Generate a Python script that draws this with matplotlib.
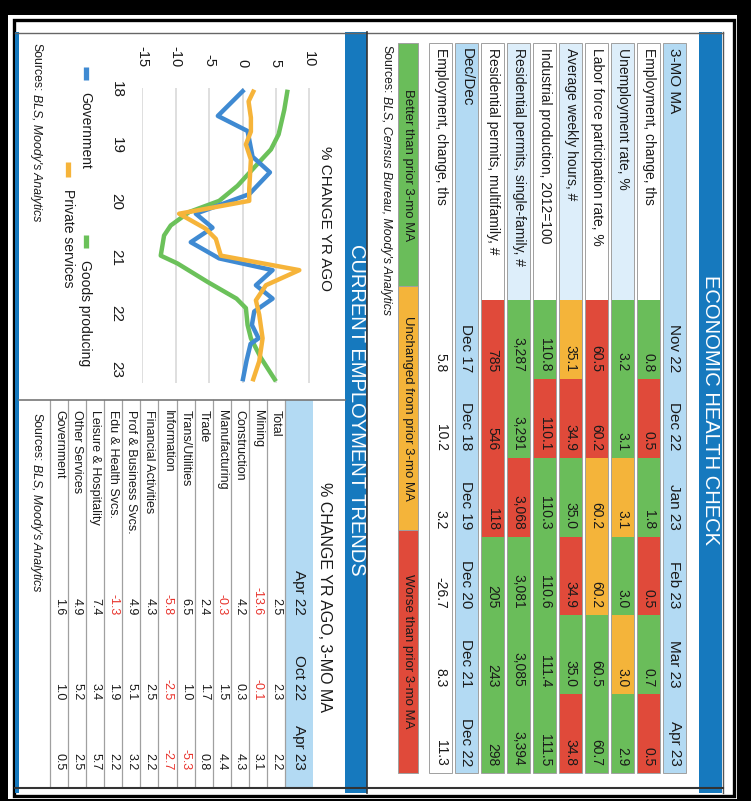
import matplotlib
matplotlib.use("Agg")
import matplotlib.pyplot as plt
from matplotlib.patches import Rectangle
import numpy as np

plt.rcParams['font.family'] = ['Liberation Sans', 'DejaVu Sans']

# ---------------- data ----------------
health_title = "ECONOMIC HEALTH CHECK"
health_months = ["Nov 22", "Dec 22", "Jan 23", "Feb 23", "Mar 23", "Apr 23"]
health_rows = ["Employment, change, ths", "Unemployment rate, %",
               "Labor force participation rate, %", "Average weekly hours, #",
               "Industrial production, 2012=100", "Residential permits, single-family, #",
               "Residential permits, multifamily, #"]
emp_change = [0.8, 0.5, 1.8, 0.5, 0.7, 0.5]
unemp_rate = [3.2, 3.1, 3.1, 3.0, 3.0, 2.9]
lfpr = [60.5, 60.2, 60.2, 60.2, 60.5, 60.7]
weekly_hours = [35.1, 34.9, 35.0, 34.9, 35.0, 34.8]
ind_prod = [110.8, 110.1, 110.3, 110.6, 111.4, 111.5]
permits_single = [3287, 3291, 3068, 3081, 3085, 3394]
permits_multi = [785, 546, 118, 205, 243, 298]
# B = better, U = unchanged, W = worse than prior 3-mo MA
emp_change_st = ["B", "W", "B", "W", "B", "W"]
unemp_rate_st = ["B", "B", "U", "B", "U", "B"]
lfpr_st = ["W", "W", "U", "U", "B", "B"]
weekly_hours_st = ["U", "W", "B", "W", "B", "W"]
ind_prod_st = ["B", "W", "B", "B", "B", "B"]
permits_single_st = ["B", "B", "W", "B", "B", "B"]
permits_multi_st = ["W", "W", "W", "B", "B", "B"]
dec_years = ["Dec 17", "Dec 18", "Dec 19", "Dec 20", "Dec 21", "Dec 22"]
dec_emp_change = [5.8, 10.2, 3.2, -26.7, 8.3, 11.3]
legend_labels = ["Better than prior 3-mo MA", "Unchanged from prior 3-mo MA", "Worse than prior 3-mo MA"]

trend_cols = ["Apr 22", "Oct 22", "Apr 23"]
trend_rows = ["Total", "Mining", "Construction", "Manufacturing", "Trade", "Trans/Utilities",
              "Information", "Financial Activities", "Prof & Business Svcs.",
              "Edu & Health Svcs.", "Leisure & Hospitality", "Other Services", "Government"]
trend_apr22 = [2.5, -13.6, 4.2, -0.3, 2.4, 6.5, -5.8, 4.3, 4.9, -1.3, 7.4, 4.9, 1.6]
trend_oct22 = [2.3, -0.1, 0.3, 1.5, 1.7, 1.0, -2.5, 2.5, 5.1, 1.9, 3.4, 5.2, 1.0]
trend_apr23 = [2.2, 3.1, 4.3, 4.4, 0.8, -5.3, -2.7, 2.2, 3.2, 2.2, 5.7, 2.5, 0.5]

# line chart (x = fractional year, y = % change yr ago)
gov_t = [2018.0, 2018.47, 2018.74, 2019.2, 2019.48, 2019.87, 2020.22, 2020.47, 2020.73,
         2021.02, 2021.23, 2021.5, 2021.74, 2021.97, 2022.21, 2022.45, 2022.55, 2022.7,
         2022.85, 2023.22]
gov_v = [0.25, -3.7, 0.75, 1.5, 4.1, 1.0, -7.0, -4.5, -7.75, -3.5, 4.5, 2.0, 4.5, 1.75,
         1.4, 2.4, 1.2, 0.9, 0.6, 0.0]
priv_t = [2018.0, 2018.21, 2018.5, 2018.75, 2018.98, 2019.25, 2019.78, 2019.99, 2020.22,
          2020.49, 2020.67, 2020.97, 2021.23, 2021.5, 2021.68, 2021.77, 2022.03, 2022.45,
          2022.86, 2023.22]
priv_v = [1.75, 0.9, 1.25, 1.25, 0.5, 1.25, 1.0, 1.0, -9.5, -5.5, -4.0, -3.25, 8.5, 3.5,
          2.5, 2.0, 2.5, 3.0, 2.5, 1.5]
goods_t = [2018.0, 2018.36, 2018.8, 2019.07, 2019.36, 2019.72, 2019.99, 2020.19, 2020.43,
           2020.61, 2020.97, 2021.11, 2021.44, 2021.74, 2021.91, 2022.21, 2022.45, 2022.8,
           2023.22]
goods_v = [6.75, 6.25, 5.4, 4.25, 2.0, -0.75, -3.5, -8.0, -10.75, -11.75, -12.25, -9.75,
           -5.25, -0.9, 0.5, 0.75, 1.25, 2.75, 5.0]
chart_years = [2018, 2019, 2020, 2021, 2022, 2023]
chart_year_labels = ["18", "19", "20", "21", "22", "23"]
chart_vticks = [-15, -10, -5, 0, 5, 10]

# ---------------- style ----------------
GREEN = '#6ABD5A'
YELLOW = '#F4B43A'
RED = '#E04A3A'
HDR = '#B3DAF3'
PALE = '#DDEEFA'
BANNER = '#1679BE'
GRAY = '#A0A0A0'
TXT = '#1A1A1A'
NEG = '#E8322B'
STATUS_COL = {"B": GREEN, "U": YELLOW, "W": RED}
C_GOV, C_PRIV, C_GOODS = '#3F8AD2', '#F6B43A', '#6BC15A'

W, H = 751, 801
fig = plt.figure(figsize=(W / 100, H / 100), dpi=100)
fig.patch.set_facecolor('black')
bg = fig.add_axes([0, 0, 1, 1])
bg.set_xlim(0, W)
bg.set_ylim(H, 0)
bg.axis('off')
bg.set_zorder(0)


def rect(x0, x1, y0, y1, fc, ec='none', lw=0, z=1, fill=True):
    bg.add_patch(Rectangle((x0, y0), x1 - x0, y1 - y0, facecolor=fc if fill else 'none',
                           edgecolor=ec, linewidth=lw, zorder=z, fill=fill))


def txt(x, y, s, ha='left', size=10, color=TXT, weight='normal', style='normal', z=6):
    return bg.text(x, y, s, rotation=-90, rotation_mode='anchor', ha=ha, va='center',
                   fontsize=size, color=color, fontweight=weight, fontstyle=style, zorder=z)


renderer = fig.canvas.get_renderer()


def sources(x, y, rest, size):
    t = txt(x, y, "Sources:", size=size)
    ext = t.get_window_extent(renderer=renderer)
    txt(x, y + ext.height + 3, rest, size=size, style='italic')


# frame
rect(8, 737, 15, 799, 'white', z=0)
rect(13.5, 734, 20, 796.3, 'none', ec='black', lw=2.4, z=0.5, fill=False)
rect(699, 722, 32, 793, BANNER, z=1)
rect(345, 367, 32, 793, BANNER, z=1)
rect(15, 19, 32, 793, BANNER, z=1)
bg.plot([15, 723], [32.5, 32.5], color='#666666', lw=1, zorder=2)
bg.plot([15, 723], [788, 788], color='#333333', lw=1.5, zorder=7)
bg.plot([367, 367], [32, 793], color='#333333', lw=1.2, zorder=2)
bg.plot([722.5, 722.5], [32, 793], color='#555555', lw=1, zorder=2)

txt(710.5, 410, health_title, ha='center', size=14.5, color='white')
txt(356.5, 410, "CURRENT EMPLOYMENT TRENDS", ha='center', size=14.5, color='white')

# ---------------- top table ----------------
ROW0, PITCH, HB = 674.5, 26.0, 11.8
LAB_Y0, COL_Y0, COL_Y1 = 43, 300, 773
col_edges = np.linspace(COL_Y0, COL_Y1, len(health_months) + 1)
PAD = 7
S_HDR, S_ROW = 11, 10

c = ROW0
rect(c - HB, c + HB, LAB_Y0, COL_Y1, HDR, ec=GRAY, lw=0.7, z=2)
txt(c, 48, "3-MO MA", size=S_HDR)
for j, m in enumerate(health_months):
    txt(c, col_edges[j + 1] - PAD, m, ha='right', size=S_HDR)

row_vals = [emp_change, unemp_rate, lfpr, weekly_hours, ind_prod, permits_single, permits_multi]
row_st = [emp_change_st, unemp_rate_st, lfpr_st, weekly_hours_st, ind_prod_st,
          permits_single_st, permits_multi_st]
for i, (lab, vals, sts) in enumerate(zip(health_rows, row_vals, row_st)):
    c = ROW0 - PITCH * (i + 1)
    rect(c - HB, c + HB, LAB_Y0, COL_Y1, PALE if i % 2 == 1 else 'white', z=2)
    txt(c, 48, lab, size=S_ROW)
    for j, (v, s) in enumerate(zip(vals, sts)):
        rect(c - HB, c + HB, col_edges[j], col_edges[j + 1], STATUS_COL[s], z=3)
        s_txt = f"{v:,.0f}" if isinstance(v, int) else f"{v:.1f}"
        txt(c, col_edges[j + 1] - PAD, s_txt, ha='right', size=S_ROW)
    rect(c - HB, c + HB, LAB_Y0, COL_Y1, 'none', ec=GRAY, lw=0.7, z=4, fill=False)

c = ROW0 - PITCH * 8
rect(c - HB, c + HB, LAB_Y0, COL_Y1, HDR, ec=GRAY, lw=0.7, z=2)
txt(c, 48, "Dec/Dec", size=S_HDR)
for j, m in enumerate(dec_years):
    txt(c, col_edges[j + 1] - PAD, m, ha='right', size=S_HDR)
c = ROW0 - PITCH * 9
rect(c - HB, c + HB, LAB_Y0, COL_Y1, 'white', ec=GRAY, lw=0.7, z=2)
txt(c, 48, "Employment, change, ths", size=S_ROW)
for j, v in enumerate(dec_emp_change):
    txt(c, col_edges[j + 1] - PAD, f"{v:.1f}", ha='right', size=S_ROW)

leg_edges = np.linspace(LAB_Y0, COL_Y1, 4)
for k, (lab, col) in enumerate(zip(legend_labels, [GREEN, YELLOW, RED])):
    rect(398, 418, leg_edges[k], leg_edges[k + 1], col, ec=GRAY, lw=0.7, z=2)
    txt(408, (leg_edges[k] + leg_edges[k + 1]) / 2, lab, ha='center', size=9.5)
sources(386, 45, "BLS, Census Bureau, Moody's Analytics", 8.8)

# ---------------- line chart ----------------
ax = fig.add_axes([141.7 / W, 1 - 383 / H, (310 - 141.7) / W, (383 - 88) / H])
ax.set_zorder(3)
ax.set_facecolor('none')
for tt, vv, col in [(goods_t, goods_v, C_GOODS), (gov_t, gov_v, C_GOV), (priv_t, priv_v, C_PRIV)]:
    ax.plot(vv, tt, color=col, lw=3.2, solid_joinstyle='round', solid_capstyle='butt')
ax.set_xlim(-15.1, 10.1)
ax.set_ylim(2023.25, 2017.97)
ax.set_xticks(chart_vticks)
ax.set_xticklabels([str(v) for v in chart_vticks])
ax.xaxis.tick_top()
ax.set_yticks(chart_years)
ax.set_yticklabels(chart_year_labels)
ax.tick_params(axis='x', length=0, pad=15, labelsize=10.5, labelcolor=TXT)
ax.tick_params(axis='y', length=0, pad=13, labelsize=11, labelcolor=TXT)
for lab in ax.get_xticklabels():
    lab.set_rotation(-90)
for lab in ax.get_yticklabels():
    lab.set_rotation(-90)
    lab.set_va('center')
ax.grid(axis='x', color='#D9D9D9', lw=1.2)
ax.grid(axis='y', visible=False)
for sp in ax.spines.values():
    sp.set_visible(False)

txt(325, 219, "% CHANGE YR AGO", ha='center', size=11)
for (x, y0, y1, lab, col) in [(85.5, 67, 80, "Government", C_GOV),
                              (67.5, 162, 177, "Private services", C_PRIV),
                              (85.5, 235, 248, "Goods producing", C_GOODS)]:
    bg.plot([x, x], [y0, y1], color=col, lw=3.8, solid_capstyle='butt', zorder=5)
    txt(x, y1 + 12, lab, size=10)
sources(36, 43, "BLS, Moody's Analytics", 8.8)
bg.plot([19, 345], [400, 400], color='#777777', lw=1.2, zorder=5)

# ---------------- employment trends table ----------------
TB_Y0, TB_Y1 = 400, 787
HDR_X0, HDR_X1 = 285, 312.5
rect(HDR_X0, HDR_X1, TB_Y0, TB_Y1, HDR, z=2)
txt(325, 597, "% CHANGE YR AGO, 3-MO MA", ha='center', size=11.5)
col_right = [615, 700, 770]
for j, m in enumerate(trend_cols):
    txt((HDR_X0 + HDR_X1) / 2, col_right[j], m, ha='right', size=11)
rpitch = (HDR_X0 - 50) / len(trend_rows)
for k in range(len(trend_rows) + 1):
    xl = HDR_X0 - rpitch * k
    bg.plot([xl, xl], [TB_Y0, TB_Y1], color=GRAY, lw=0.9, zorder=4)
for i, lab in enumerate(trend_rows):
    xc = HDR_X0 - rpitch * (i + 0.5)
    txt(xc, 410, lab, size=9)
    for j, vals in enumerate([trend_apr22, trend_oct22, trend_apr23]):
        v = vals[i]
        txt(xc, col_right[j], f"{v:.1f}", ha='right', size=9, color=NEG if v < 0 else TXT)
sources(36, 413, "BLS, Moody's Analytics", 8.8)

fig.savefig("out.png", dpi=100, facecolor=fig.get_facecolor())
